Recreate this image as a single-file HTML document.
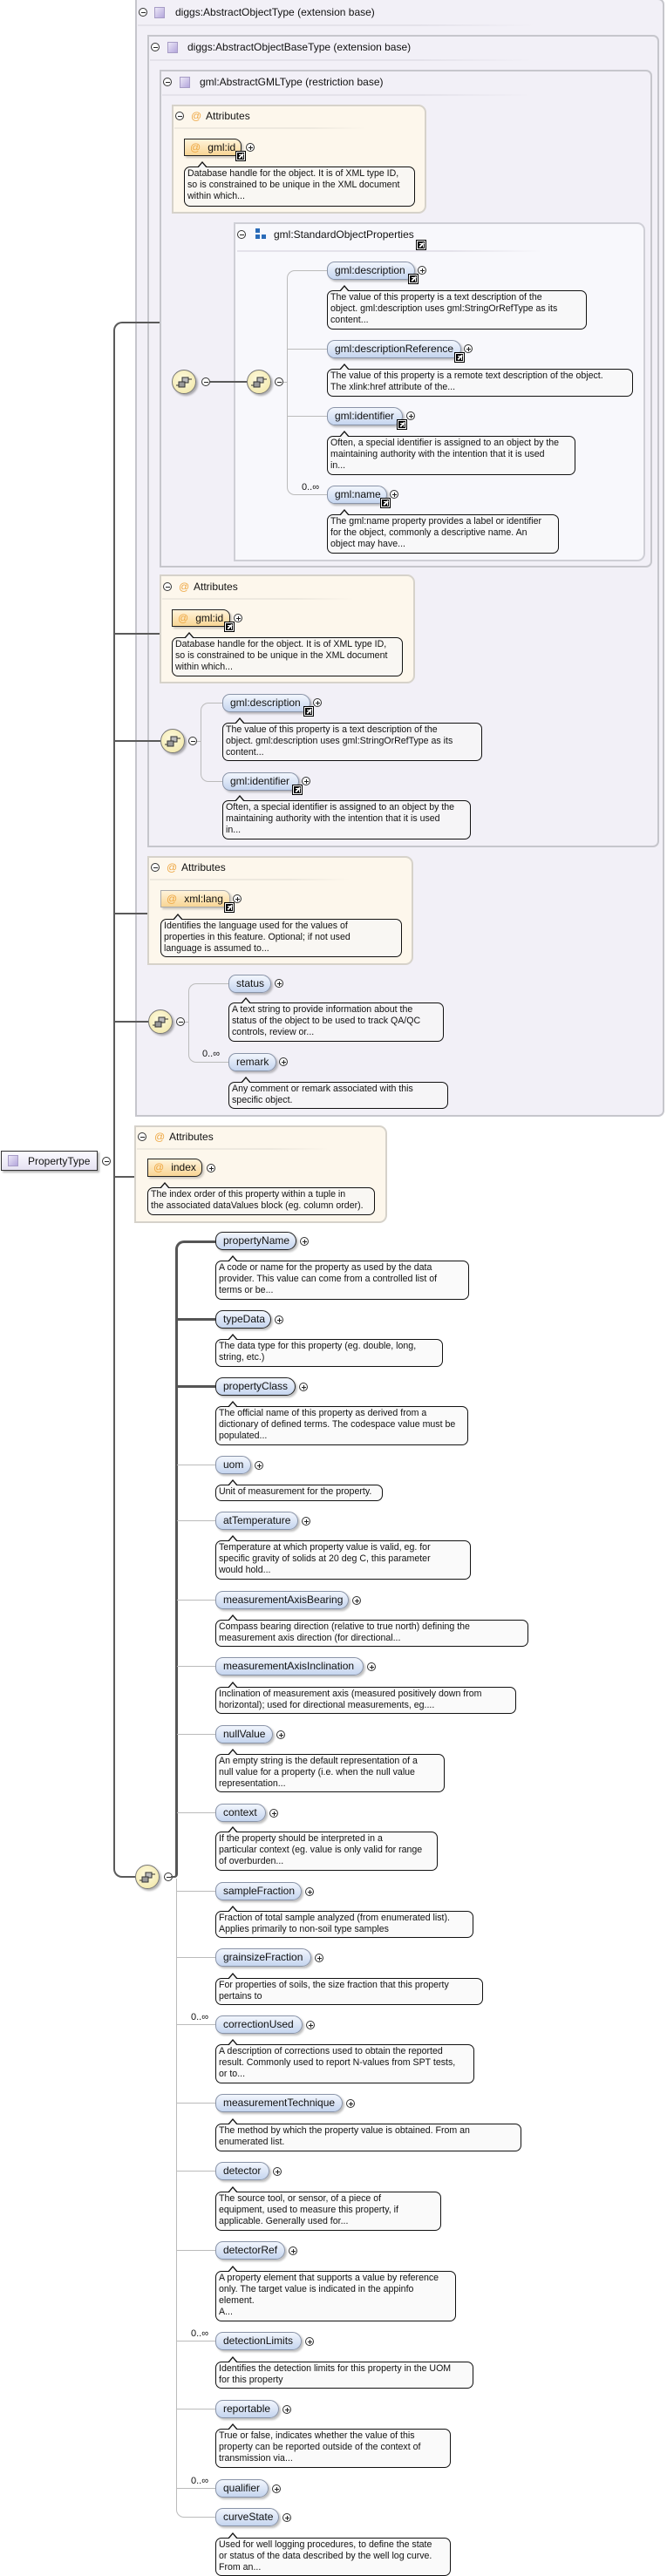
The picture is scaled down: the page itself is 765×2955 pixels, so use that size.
<!DOCTYPE html>
<html><head><meta charset="utf-8">
<style>
*{box-sizing:border-box;margin:0;padding:0}
body{width:765px;height:2955px;position:relative;background:#fff;font-family:"Liberation Sans",sans-serif;color:#111;overflow:hidden}
div{position:absolute}
.bx{border:2px solid #c6c6cc;background:#f2f0f7;border-radius:0 7px 7px 0}
.sop{border:2px solid #cfcfd6;background:#f8f8fc;border-radius:0 9px 9px 0}
.atb{border:2px solid #d6d2ca;background:#fdf7ec;border-radius:0 9px 9px 0}
.t{font-size:12px;line-height:14px;white-space:nowrap}
.ul{height:2px;background:linear-gradient(90deg,#e4e2ea,#e4e2ea 70%,rgba(228,226,234,0))}
.ula{height:2px;background:linear-gradient(90deg,#eee9df,#eee9df 70%,rgba(238,233,223,0))}
.sq{width:12px;height:13px;border:1px solid #a79cc6;background:linear-gradient(135deg,#ece8f7,#b4a6dc)}
.m,.p{width:10px;height:10px;border:1px solid #333;border-radius:50%;background:#fff}
.m::after,.p::after{content:"";position:absolute;left:1.5px;top:3.5px;width:5px;height:1px;background:#222}
.p::before{content:"";position:absolute;left:3.5px;top:1.5px;width:1px;height:5px;background:#222}
.el{height:21px;border:1px solid #8a94a8;border-radius:9px 11px 11px 9px;background:linear-gradient(#f2f6fd,#c5d5ef);box-shadow:2px 2px 2px rgba(0,0,0,.25);font-size:12px;line-height:19px;padding-left:8px;white-space:nowrap}
.el.r{border:1.5px solid #222}
.at{height:20px;border:1px solid #aaa;border-radius:0 8px 8px 0;background:linear-gradient(#fff3da,#f8d594);box-shadow:2px 2px 2px rgba(0,0,0,.2);font-size:12px;line-height:18px;padding-left:6px;white-space:nowrap}
.at.r{border:1.5px solid #222}
.at b{font-weight:normal;color:#eea640;margin-right:8px}
.d{border:1px solid #111;border-radius:7px;background:rgba(248,248,248,.65);font-size:10.6px;line-height:13px;padding:1px 3px;white-space:nowrap;overflow:hidden}
.n{width:12px;height:7px}
.n::before{content:"";position:absolute;left:0;top:0;border-left:6px solid transparent;border-right:6px solid transparent;border-bottom:7px solid #111}
.n::after{content:"";position:absolute;left:1px;top:1.5px;border-left:5px solid transparent;border-right:5px solid transparent;border-bottom:6px solid #f6f6f6}
.lk{width:10px;height:10px;background:#000;border:1px solid #fff;outline:1px solid #000}
.lk::after{content:"";position:absolute;left:2px;top:2px;width:4px;height:4px;border-top:1.5px solid #fff;border-right:1.5px solid #fff}
.lk::before{content:"";position:absolute;left:1px;top:3px;width:7px;height:1.5px;background:#fff;transform:rotate(-45deg)}
.h{height:1px;background:#bbb}
.v{width:1px;background:#bbb}
.H{height:2px;background:#5a5a5a}
.V{width:2px;background:#5a5a5a}
.sg{width:28px;height:28px;border-radius:50%;border:1px solid #777;background:radial-gradient(circle at 45% 40%,#fffbe0,#efe4a0);box-shadow:2px 2px 2px rgba(0,0,0,.3)}
.sg svg{position:absolute;left:3px;top:3px}
.o{font-size:11px;white-space:nowrap}
</style></head><body>

<!-- outer boxes -->
<div class="bx" style="left:155px;top:-2px;width:607px;height:1283px"></div>
<div class="m" style="left:159px;top:9px"></div><div class="sq" style="left:177px;top:8px"></div>
<div class="t" style="left:201px;top:7px">diggs:AbstractObjectType (extension base)</div>
<div class="ul" style="left:158px;top:28px;width:456px"></div>

<div class="bx" style="left:169px;top:40px;width:587px;height:932px"></div>
<div class="m" style="left:173px;top:49px"></div><div class="sq" style="left:192px;top:48px"></div>
<div class="t" style="left:215px;top:47px">diggs:AbstractObjectBaseType (extension base)</div>
<div class="ul" style="left:172px;top:68px;width:440px"></div>

<div class="bx" style="left:183px;top:80px;width:565px;height:571px"></div>
<div class="m" style="left:187px;top:89px"></div><div class="sq" style="left:206px;top:88px"></div>
<div class="t" style="left:229px;top:87px">gml:AbstractGMLType (restriction base)</div>
<div class="ul" style="left:186px;top:108px;width:424px"></div>

<!-- Attributes 1 -->
<div class="atb" style="left:197px;top:120px;width:292px;height:125px"></div>
<div class="m" style="left:201px;top:128px"></div><div class="t" style="left:219px;top:126px;color:#eea640">@</div>
<div class="t" style="left:236px;top:126px">Attributes</div>
<div class="ula" style="left:200px;top:146px;width:220px"></div>
<div class="at r" style="left:211px;top:159px;width:66px"><b>@</b>gml:id</div>
<div class="lk" style="left:271px;top:174px"></div><div class="p" style="left:282px;top:164px"></div>
<div class="d" style="left:211px;top:191px;width:265px;height:46px">Database handle for the object. It is of XML type ID,<br>so is constrained to be unique in the XML document<br>within which...</div>
<div class="n" style="left:226px;top:185px"></div>

<!-- SOP -->
<div class="sop" style="left:268px;top:255px;width:472px;height:389px"></div>
<div class="m" style="left:272px;top:264px"></div>
<div style="left:293px;top:262px;width:5px;height:5px;background:#2a6bb8"></div>
<div style="left:293px;top:269px;width:5px;height:5px;background:#2a6bb8"></div>
<div style="left:300px;top:269px;width:5px;height:5px;background:#2a6bb8"></div>
<div class="t" style="left:314px;top:262px">gml:StandardObjectProperties</div>
<div class="lk" style="left:478px;top:276px"></div>
<div class="ul" style="left:272px;top:287px;width:350px"></div>

<!-- trunk top -->
<div style="left:130px;top:369px;width:53px;height:20px;border-left:2px solid #5a5a5a;border-top:2px solid #5a5a5a;border-top-left-radius:10px"></div>
<div class="V" style="left:130px;top:385px;height:1757px"></div>
<div style="left:130px;top:2139px;width:26px;height:15px;border-left:2px solid #5a5a5a;border-bottom:2px solid #5a5a5a;border-bottom-left-radius:10px"></div>

<!-- seq1/seq2 -->
<div class="sg" style="left:197px;top:424px"><svg width="22" height="22"><rect x="8" y="5" width="7" height="6" fill="#bbb" stroke="#333"/><rect x="4" y="10" width="7" height="6" fill="#999" stroke="#333"/><line x1="1" y1="14" x2="4" y2="14" stroke="#333"/><line x1="15" y1="7" x2="19" y2="7" stroke="#333"/></svg></div>
<div class="m" style="left:231px;top:433px"></div>
<div class="H" style="left:241px;top:437px;width:42px"></div>
<div class="sg" style="left:283px;top:424px"><svg width="22" height="22"><rect x="8" y="5" width="7" height="6" fill="#bbb" stroke="#333"/><rect x="4" y="10" width="7" height="6" fill="#999" stroke="#333"/><line x1="1" y1="14" x2="4" y2="14" stroke="#333"/><line x1="15" y1="7" x2="19" y2="7" stroke="#333"/></svg></div>
<div class="m" style="left:315px;top:433px"></div>
<div class="h" style="left:325px;top:438px;width:5px"></div>
<div style="left:329px;top:310px;width:46px;height:12px;border-left:1px solid #bbb;border-top:1px solid #bbb;border-top-left-radius:9px"></div>
<div class="v" style="left:329px;top:320px;height:238px"></div>
<div style="left:329px;top:556px;width:46px;height:12px;border-left:1px solid #bbb;border-bottom:1px solid #bbb;border-bottom-left-radius:9px"></div>
<div class="h" style="left:329px;top:400px;width:46px"></div>
<div class="h" style="left:329px;top:477px;width:46px"></div>

<div class="el" style="left:375px;top:300px;width:101px">gml:description</div>
<div class="lk" style="left:469px;top:315px"></div><div class="p" style="left:479px;top:305px"></div>
<div class="d" style="left:375px;top:333px;width:298px;height:45px">The value of this property is a text description of the<br>object. gml:description uses gml:StringOrRefType as its<br>content...</div>
<div class="n" style="left:389px;top:327px"></div>

<div class="el" style="left:375px;top:390px;width:154px">gml:descriptionReference</div>
<div class="lk" style="left:522px;top:405px"></div><div class="p" style="left:532px;top:395px"></div>
<div class="d" style="left:375px;top:423px;width:351px;height:32px">The value of this property is a remote text description of the object.<br>The xlink:href attribute of the...</div>
<div class="n" style="left:389px;top:417px"></div>

<div class="el" style="left:375px;top:467px;width:87px">gml:identifier</div>
<div class="lk" style="left:456px;top:482px"></div><div class="p" style="left:466px;top:472px"></div>
<div class="d" style="left:375px;top:500px;width:285px;height:45px">Often, a special identifier is assigned to an object by the<br>maintaining authority with the intention that it is used<br>in...</div>
<div class="n" style="left:389px;top:494px"></div>

<div class="o" style="left:346px;top:553px">0..∞</div>
<div class="el" style="left:375px;top:557px;width:69px">gml:name</div>
<div class="lk" style="left:437px;top:572px"></div><div class="p" style="left:447px;top:562px"></div>
<div class="d" style="left:375px;top:590px;width:266px;height:45px">The gml:name property provides a label or identifier<br>for the object, commonly a descriptive name. An<br>object may have...</div>
<div class="n" style="left:389px;top:584px"></div>

<!-- Attributes 2 -->
<div class="H" style="left:130px;top:726px;width:53px"></div>
<div class="atb" style="left:183px;top:659px;width:293px;height:125px"></div>
<div class="m" style="left:187px;top:668px"></div><div class="t" style="left:205px;top:666px;color:#eea640">@</div>
<div class="t" style="left:222px;top:666px">Attributes</div>
<div class="ula" style="left:186px;top:686px;width:220px"></div>
<div class="at r" style="left:197px;top:699px;width:67px"><b>@</b>gml:id</div>
<div class="lk" style="left:258px;top:714px"></div><div class="p" style="left:268px;top:704px"></div>
<div class="d" style="left:197px;top:731px;width:265px;height:45px">Database handle for the object. It is of XML type ID,<br>so is constrained to be unique in the XML document<br>within which...</div>
<div class="n" style="left:211px;top:725px"></div>

<!-- seq3 -->
<div class="H" style="left:130px;top:849px;width:54px"></div>
<div class="sg" style="left:184px;top:836px"><svg width="22" height="22"><rect x="8" y="5" width="7" height="6" fill="#bbb" stroke="#333"/><rect x="4" y="10" width="7" height="6" fill="#999" stroke="#333"/><line x1="1" y1="14" x2="4" y2="14" stroke="#333"/><line x1="15" y1="7" x2="19" y2="7" stroke="#333"/></svg></div>
<div class="m" style="left:216px;top:845px"></div>
<div class="h" style="left:226px;top:850px;width:5px"></div>
<div style="left:230px;top:806px;width:25px;height:12px;border-left:1px solid #bbb;border-top:1px solid #bbb;border-top-left-radius:9px"></div>
<div class="v" style="left:230px;top:816px;height:72px"></div>
<div style="left:230px;top:885px;width:25px;height:12px;border-left:1px solid #bbb;border-bottom:1px solid #bbb;border-bottom-left-radius:9px"></div>
<div class="el" style="left:255px;top:796px;width:101px">gml:description</div>
<div class="lk" style="left:349px;top:811px"></div><div class="p" style="left:359px;top:801px"></div>
<div class="d" style="left:255px;top:829px;width:298px;height:44px">The value of this property is a text description of the<br>object. gml:description uses gml:StringOrRefType as its<br>content...</div>
<div class="n" style="left:269px;top:823px"></div>
<div class="el" style="left:255px;top:886px;width:88px">gml:identifier</div>
<div class="lk" style="left:336px;top:901px"></div><div class="p" style="left:346px;top:891px"></div>
<div class="d" style="left:255px;top:918px;width:285px;height:45px">Often, a special identifier is assigned to an object by the<br>maintaining authority with the intention that it is used<br>in...</div>
<div class="n" style="left:269px;top:912px"></div>

<!-- Attributes 3 -->
<div class="H" style="left:130px;top:1047px;width:39px"></div>
<div class="atb" style="left:169px;top:982px;width:305px;height:125px"></div>
<div class="m" style="left:173px;top:990px"></div><div class="t" style="left:191px;top:988px;color:#eea640">@</div>
<div class="t" style="left:208px;top:988px">Attributes</div>
<div class="ula" style="left:172px;top:1008px;width:230px"></div>
<div class="at" style="left:184px;top:1021px;width:80px"><b>@</b>xml:lang</div>
<div class="lk" style="left:258px;top:1036px"></div><div class="p" style="left:267px;top:1026px"></div>
<div class="d" style="left:184px;top:1054px;width:277px;height:44px">Identifies the language used for the values of<br>properties in this feature. Optional; if not used<br>language is assumed to...</div>
<div class="n" style="left:198px;top:1048px"></div>

<!-- seq4 -->
<div class="H" style="left:130px;top:1171px;width:40px"></div>
<div class="sg" style="left:170px;top:1158px"><svg width="22" height="22"><rect x="8" y="5" width="7" height="6" fill="#bbb" stroke="#333"/><rect x="4" y="10" width="7" height="6" fill="#999" stroke="#333"/><line x1="1" y1="14" x2="4" y2="14" stroke="#333"/><line x1="15" y1="7" x2="19" y2="7" stroke="#333"/></svg></div>
<div class="m" style="left:202px;top:1167px"></div>
<div class="h" style="left:212px;top:1172px;width:5px"></div>
<div style="left:216px;top:1128px;width:46px;height:12px;border-left:1px solid #bbb;border-top:1px solid #bbb;border-top-left-radius:9px"></div>
<div class="v" style="left:216px;top:1138px;height:72px"></div>
<div style="left:216px;top:1207px;width:46px;height:12px;border-left:1px solid #bbb;border-bottom:1px solid #bbb;border-bottom-left-radius:9px"></div>
<div class="el" style="left:262px;top:1118px;width:49px">status</div>
<div class="p" style="left:315px;top:1123px"></div>
<div class="d" style="left:262px;top:1150px;width:247px;height:45px">A text string to provide information about the<br>status of the object to be used to track QA/QC<br>controls, review or...</div>
<div class="n" style="left:276px;top:1144px"></div>
<div class="o" style="left:232px;top:1203px">0..∞</div>
<div class="el" style="left:262px;top:1208px;width:55px">remark</div>
<div class="p" style="left:320px;top:1213px"></div>
<div class="d" style="left:262px;top:1241px;width:252px;height:31px">Any comment or remark associated with this<br>specific object.</div>
<div class="n" style="left:276px;top:1235px"></div>

<!-- PropertyType -->
<div style="left:1px;top:1320px;width:111px;height:23px;border:1px solid #333;background:linear-gradient(#fbfaff,#e6e2f2);box-shadow:2px 2px 2px rgba(0,0,0,.3)"></div>
<div class="sq" style="left:9px;top:1325px"></div>
<div class="t" style="left:32px;top:1325px">PropertyType</div>
<div class="m" style="left:117px;top:1327px"></div>

<!-- Attributes index -->
<div class="H" style="left:130px;top:1349px;width:24px"></div>
<div class="atb" style="left:154px;top:1291px;width:290px;height:112px"></div>
<div class="m" style="left:158px;top:1299px"></div><div class="t" style="left:177px;top:1297px;color:#eea640">@</div>
<div class="t" style="left:194px;top:1297px">Attributes</div>
<div class="ula" style="left:157px;top:1317px;width:220px"></div>
<div class="at r" style="left:169px;top:1329px;width:63px;height:21px"><b>@</b>index</div>
<div class="p" style="left:237px;top:1335px"></div>
<div class="d" style="left:169px;top:1362px;width:261px;height:32px">The index order of this property within a tuple in<br>the associated dataValues block (eg. column order).</div>
<div class="n" style="left:183px;top:1356px"></div>

<!-- seq5 -->
<div class="sg" style="left:155px;top:2139px"><svg width="22" height="22"><rect x="8" y="5" width="7" height="6" fill="#bbb" stroke="#333"/><rect x="4" y="10" width="7" height="6" fill="#999" stroke="#333"/><line x1="1" y1="14" x2="4" y2="14" stroke="#333"/><line x1="15" y1="7" x2="19" y2="7" stroke="#333"/></svg></div>
<div class="m" style="left:188px;top:2148px"></div>
<div style="left:196px;top:2140px;width:8px;height:14px;border-right:3px solid #555;border-bottom:2px solid #555;border-bottom-right-radius:4px"></div>
<div style="left:201px;top:1423px;width:46px;height:20px;border-left:3px solid #555;border-top:3px solid #555;border-top-left-radius:10px"></div>
<div style="left:201px;top:1440px;width:3px;height:702px;background:#555"></div>
<div style="left:201px;top:1512px;width:46px;height:3px;background:#555"></div>
<div style="left:201px;top:1589px;width:46px;height:3px;background:#555"></div>
<div class="v" style="left:202px;top:2155px;height:723px"></div>
<div style="left:202px;top:2876px;width:45px;height:12px;border-left:1px solid #bbb;border-bottom:1px solid #bbb;border-bottom-left-radius:9px"></div>
<div class="h" style="left:203px;top:1680px;width:44px"></div>
<div class="h" style="left:203px;top:1744px;width:44px"></div>
<div class="h" style="left:203px;top:1835px;width:44px"></div>
<div class="h" style="left:203px;top:1911px;width:44px"></div>
<div class="h" style="left:203px;top:1989px;width:44px"></div>
<div class="h" style="left:203px;top:2079px;width:44px"></div>
<div class="h" style="left:203px;top:2169px;width:44px"></div>
<div class="h" style="left:203px;top:2245px;width:44px"></div>
<div class="h" style="left:203px;top:2322px;width:44px"></div>
<div class="h" style="left:203px;top:2412px;width:44px"></div>
<div class="h" style="left:203px;top:2490px;width:44px"></div>
<div class="h" style="left:203px;top:2581px;width:44px"></div>
<div class="h" style="left:203px;top:2685px;width:44px"></div>
<div class="h" style="left:203px;top:2763px;width:44px"></div>
<div class="h" style="left:203px;top:2854px;width:44px"></div>

<div class="el r" style="left:247px;top:1413px;width:93px">propertyName</div><div class="p" style="left:344px;top:1419px"></div>
<div class="d" style="left:247px;top:1446px;width:291px;height:45px">A code or name for the property as used by the data<br>provider. This value can come from a controlled list of<br>terms or be...</div><div class="n" style="left:261px;top:1440px"></div>

<div class="el r" style="left:247px;top:1503px;width:64px">typeData</div><div class="p" style="left:315px;top:1509px"></div>
<div class="d" style="left:247px;top:1536px;width:261px;height:32px">The data type for this property (eg. double, long,<br>string, etc.)</div><div class="n" style="left:261px;top:1530px"></div>

<div class="el r" style="left:247px;top:1580px;width:92px">propertyClass</div><div class="p" style="left:343px;top:1586px"></div>
<div class="d" style="left:247px;top:1613px;width:290px;height:45px">The official name of this property as derived from a<br>dictionary of defined terms. The codespace value must be<br>populated...</div><div class="n" style="left:261px;top:1607px"></div>

<div class="el" style="left:247px;top:1670px;width:41px">uom</div><div class="p" style="left:292px;top:1676px"></div>
<div class="d" style="left:247px;top:1703px;width:192px;height:19px">Unit of measurement for the property.</div><div class="n" style="left:261px;top:1697px"></div>

<div class="el" style="left:247px;top:1734px;width:95px">atTemperature</div><div class="p" style="left:346px;top:1740px"></div>
<div class="d" style="left:247px;top:1767px;width:293px;height:45px">Temperature at which property value is valid, eg. for<br>specific gravity of solids at 20 deg C, this parameter<br>would hold...</div><div class="n" style="left:261px;top:1761px"></div>

<div class="el" style="left:247px;top:1825px;width:153px">measurementAxisBearing</div><div class="p" style="left:404px;top:1831px"></div>
<div class="d" style="left:247px;top:1858px;width:359px;height:31px">Compass bearing direction (relative to true north) defining the<br>measurement axis direction (for directional...</div><div class="n" style="left:261px;top:1852px"></div>

<div class="el" style="left:247px;top:1901px;width:170px">measurementAxisInclination</div><div class="p" style="left:421px;top:1907px"></div>
<div class="d" style="left:247px;top:1935px;width:345px;height:31px">Inclination of measurement axis (measured positively down from<br>horizontal); used for directional measurements, eg....</div><div class="n" style="left:261px;top:1929px"></div>

<div class="el" style="left:247px;top:1979px;width:66px">nullValue</div><div class="p" style="left:317px;top:1985px"></div>
<div class="d" style="left:247px;top:2012px;width:263px;height:44px">An empty string is the default representation of a<br>null value for a property (i.e. when the null value<br>representation...</div><div class="n" style="left:261px;top:2006px"></div>

<div class="el" style="left:247px;top:2069px;width:58px">context</div><div class="p" style="left:309px;top:2075px"></div>
<div class="d" style="left:247px;top:2101px;width:255px;height:45px">If the property should be interpreted in a<br>particular context (eg. value is only valid for range<br>of overburden...</div><div class="n" style="left:261px;top:2095px"></div>

<div class="el" style="left:247px;top:2159px;width:99px">sampleFraction</div><div class="p" style="left:350px;top:2165px"></div>
<div class="d" style="left:247px;top:2192px;width:296px;height:31px">Fraction of total sample analyzed (from enumerated list).<br>Applies primarily to non-soil type samples</div><div class="n" style="left:261px;top:2186px"></div>

<div class="el" style="left:247px;top:2235px;width:110px">grainsizeFraction</div><div class="p" style="left:361px;top:2241px"></div>
<div class="d" style="left:247px;top:2269px;width:307px;height:31px">For properties of soils, the size fraction that this property<br>pertains to</div><div class="n" style="left:261px;top:2263px"></div>

<div class="o" style="left:219px;top:2308px">0..∞</div>
<div class="el" style="left:247px;top:2312px;width:100px">correctionUsed</div><div class="p" style="left:351px;top:2318px"></div>
<div class="d" style="left:247px;top:2345px;width:297px;height:45px">A description of corrections used to obtain the reported<br>result. Commonly used to report N-values from SPT tests,<br>or to...</div><div class="n" style="left:261px;top:2339px"></div>

<div class="el" style="left:247px;top:2402px;width:146px">measurementTechnique</div><div class="p" style="left:397px;top:2408px"></div>
<div class="d" style="left:247px;top:2436px;width:351px;height:32px">The method by which the property value is obtained. From an<br>enumerated list.</div><div class="n" style="left:261px;top:2430px"></div>

<div class="el" style="left:247px;top:2480px;width:62px">detector</div><div class="p" style="left:313px;top:2486px"></div>
<div class="d" style="left:247px;top:2514px;width:259px;height:45px">The source tool, or sensor, of a piece of<br>equipment, used to measure this property, if<br>applicable. Generally used for...</div><div class="n" style="left:261px;top:2508px"></div>

<div class="el" style="left:247px;top:2571px;width:80px">detectorRef</div><div class="p" style="left:331px;top:2577px"></div>
<div class="d" style="left:247px;top:2605px;width:276px;height:58px">A property element that supports a value by reference<br>only. The target value is indicated in the appinfo<br>element.<br>A...</div><div class="n" style="left:261px;top:2599px"></div>

<div class="o" style="left:219px;top:2671px">0..∞</div>
<div class="el" style="left:247px;top:2675px;width:99px">detectionLimits</div><div class="p" style="left:350px;top:2681px"></div>
<div class="d" style="left:247px;top:2709px;width:296px;height:31px">Identifies the detection limits for this property in the UOM<br>for this property</div><div class="n" style="left:261px;top:2703px"></div>

<div class="el" style="left:247px;top:2753px;width:73px">reportable</div><div class="p" style="left:324px;top:2759px"></div>
<div class="d" style="left:247px;top:2786px;width:270px;height:45px">True or false, indicates whether the value of this<br>property can be reported outside of the context of<br>transmission via...</div><div class="n" style="left:261px;top:2780px"></div>

<div class="o" style="left:219px;top:2840px">0..∞</div>
<div class="el" style="left:247px;top:2844px;width:61px">qualifier</div><div class="p" style="left:312px;top:2850px"></div>

<div class="el" style="left:247px;top:2877px;width:73px">curveState</div><div class="p" style="left:324px;top:2883px"></div>
<div class="d" style="left:247px;top:2911px;width:270px;height:44px">Used for well logging procedures, to define the state<br>or status of the data described by the well log curve.<br>From an...</div><div class="n" style="left:261px;top:2905px"></div>

</body></html>
